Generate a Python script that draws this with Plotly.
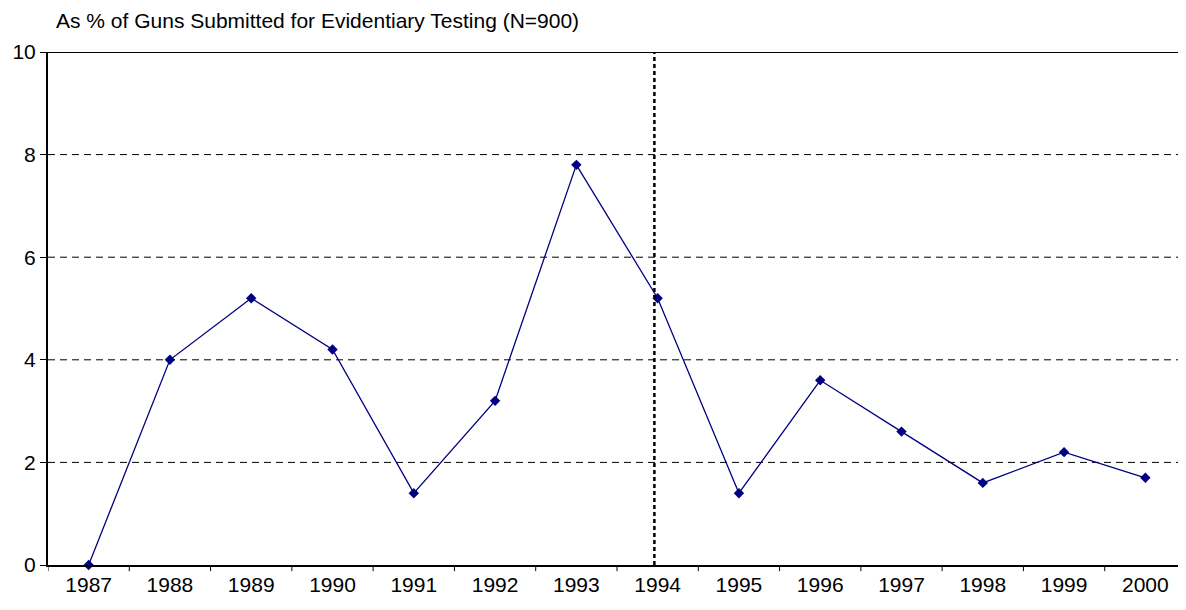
import plotly.graph_objects as go

years = ["1987", "1988", "1989", "1990", "1991", "1992", "1993",
         "1994", "1995", "1996", "1997", "1998", "1999", "2000"]
values = [0.0, 4.0, 5.2, 4.2, 1.4, 3.2, 7.8, 5.2, 1.4, 3.6, 2.6, 1.6, 2.2, 1.7]
y_ticks = [0, 2, 4, 6, 8, 10]
title_text = "As % of Guns Submitted for Evidentiary Testing (N=900)"
marker_year_index = 6.96  # dashed line at 1994

FONT = "Liberation Sans, Arial, sans-serif"

fig = go.Figure()
fig.add_trace(go.Scatter(
    x=list(range(len(years))), y=values, mode="lines+markers",
    line=dict(color="#000080", width=1.3),
    marker=dict(symbol="diamond", size=8, color="#000080"),
    showlegend=False, hoverinfo="skip", cliponaxis=False))

for v in y_ticks[1:-1]:
    fig.add_shape(type="line", xref="paper", x0=0, x1=1, yref="y", y0=v, y1=v,
                  line=dict(color="black", width=1, dash="7px,5px"), layer="below")

# top border line
fig.add_shape(type="line", xref="paper", x0=0, x1=1, yref="y", y0=y_ticks[-1], y1=y_ticks[-1],
              line=dict(color="black", width=2))

fig.add_shape(type="line", xref="x", x0=marker_year_index, x1=marker_year_index,
              yref="paper", y0=0, y1=1,
              line=dict(color="black", width=2.5, dash="4px,3px"))

fig.add_annotation(text=title_text, xref="paper", yref="paper",
                   x=0, y=1.0, xshift=6, yshift=32, xanchor="left", yanchor="middle",
                   showarrow=False, font=dict(family=FONT, size=21, color="black"))

fig.update_layout(
    width=1178, height=594,
    margin=dict(l=40, r=0, t=44, b=37),
    paper_bgcolor="white", plot_bgcolor="white",
    font=dict(family=FONT, size=21, color="black"),
    xaxis=dict(range=[-0.5, len(years) - 0.5], tickmode="array",
               tickvals=list(range(len(years))), ticktext=years,
               showgrid=False, zeroline=False, showline=True,
               linecolor="black", linewidth=2, ticks="", ticklen=0,
               automargin=False),
    yaxis=dict(range=[0, 10], tickvals=y_ticks, showgrid=False, zeroline=False,
               showline=True, linecolor="black", linewidth=2,
               ticks="outside", ticklen=6, tickcolor="black", tickwidth=1,
               automargin=False),
)

# category boundary ticks on x axis
for i in range(len(years) + 1):
    fig.add_shape(type="line", xref="x", x0=i - 0.5, x1=i - 0.5,
                  yref="paper", y0=0, y1=-0.012,
                  line=dict(color="black", width=1))

fig.write_html("out.html")
